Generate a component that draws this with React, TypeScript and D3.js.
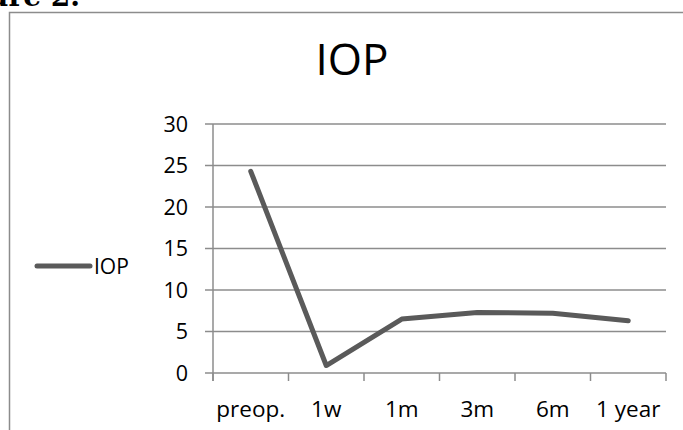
import React from "react";
import * as d3 from "d3";

const categories = ["preop.", "1w", "1m", "3m", "6m", "1 year"];
const iopValues = [24.3, 0.9, 6.5, 7.3, 7.2, 6.3];
const yTicks = [0, 5, 10, 15, 20, 25, 30];

const seriesName = "IOP";
const chartTitle = "IOP";

const W = 683;
const H = 430;
const margin = { top: 124, right: 17, bottom: 57, left: 213 };

const font = "'Open Sans', 'Noto Sans', sans-serif";
const gridColor = "#8c8c8c";
const lineColor = "#5a5a5a";

export default function App() {
  const x = d3
    .scaleBand<string>()
    .domain(categories)
    .range([margin.left, W - margin.right])
    .paddingInner(0)
    .paddingOuter(0);
  const y = d3
    .scaleLinear()
    .domain([0, 30])
    .range([H - margin.bottom, margin.top]);

  const line = d3
    .line<number>()
    .x((_, i) => (x(categories[i]) as number) + x.bandwidth() / 2)
    .y((d) => y(d));

  // category boundaries for the x tick marks
  const boundaries = categories.map((c) => x(c) as number).concat([x.range()[1]]);

  return (
    <svg
      width={W}
      height={H}
      style={{ position: "absolute", left: 0, top: 0, background: "#fff" }}
    >
      {/* caption clipped at the top */}
      <text
        x={80}
        y={6}
        textAnchor="end"
        fontFamily="'DejaVu Serif', serif"
        fontWeight="bold"
        fontSize={28}
        fill="#000"
      >
        Figure 2.
      </text>

      {/* chart frame */}
      <path d={`M9.5,${H} V12.5 H${W}`} fill="none" stroke={gridColor} strokeWidth={1.5} />

      <text
        x={352}
        y={75}
        textAnchor="middle"
        fontFamily={font}
        fontSize={44}
        fill="#000"
      >
        {chartTitle}
      </text>

      {/* horizontal gridlines + y ticks */}
      {yTicks.map((t) => (
        <g key={t}>
          <line
            x1={margin.left - 8}
            x2={W - margin.right}
            y1={y(t)}
            y2={y(t)}
            stroke={gridColor}
            strokeWidth={1.5}
          />
          <text
            x={188}
            y={y(t)}
            dy="0.36em"
            textAnchor="end"
            fontFamily={font}
            fontSize={21.5}
            fill="#000"
          >
            {t}
          </text>
        </g>
      ))}

      {/* y axis */}
      <line
        x1={margin.left}
        x2={margin.left}
        y1={y(30)}
        y2={y(0) + 8}
        stroke={gridColor}
        strokeWidth={1.5}
      />

      {/* x tick marks */}
      {boundaries.map((b, i) => (
        <line
          key={i}
          x1={b}
          x2={b}
          y1={y(0)}
          y2={y(0) + 8}
          stroke={gridColor}
          strokeWidth={1.5}
        />
      ))}

      {/* x labels */}
      {categories.map((c) => (
        <text
          key={c}
          x={(x(c) as number) + x.bandwidth() / 2}
          y={417}
          textAnchor="middle"
          fontFamily={font}
          fontSize={22.5}
          fill="#000"
        >
          {c}
        </text>
      ))}

      {/* series line */}
      <path
        d={line(iopValues) || ""}
        fill="none"
        stroke={lineColor}
        strokeWidth={5}
        strokeLinecap="round"
        strokeLinejoin="round"
      />

      {/* legend */}
      <line
        x1={37}
        x2={90}
        y1={266}
        y2={266}
        stroke={lineColor}
        strokeWidth={5}
        strokeLinecap="round"
      />
      <text x={94} y={266} dy="0.36em" fontFamily={font} fontSize={21} fill="#000">
        {seriesName}
      </text>
    </svg>
  );
}
